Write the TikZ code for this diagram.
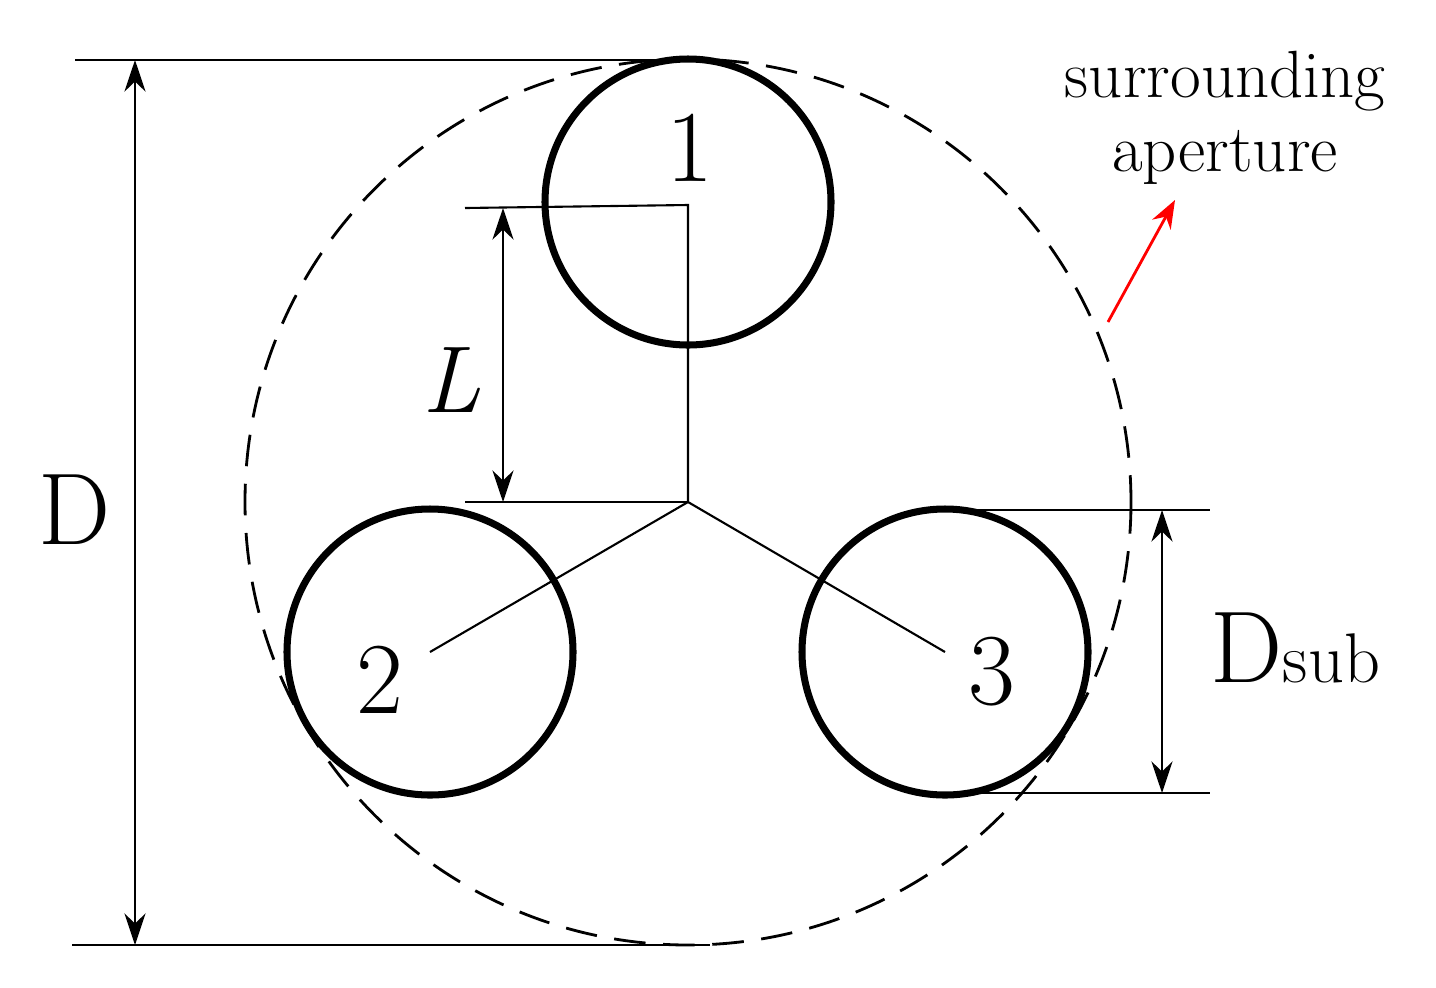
\documentclass[tikz,border=0pt]{standalone}
\usetikzlibrary{arrows.meta}
\begin{document}
\begin{tikzpicture}[x=0.01cm,y=-0.01cm,
  sub/.style={line width=2pt},
  thin/.style={line width=0.6pt},
  dim/.style={line width=0.8pt,{Stealth[length=9pt,width=6pt]}-{Stealth[length=9pt,width=6pt]}},
  lab/.style={font=\fontsize{29}{34}\selectfont,inner sep=0pt}]
\useasboundingbox (0,0) rectangle (1436,987);
\draw[line width=0.8pt,dash pattern=on 9pt off 5pt] (688,502) circle (443);
\coordinate (c) at (688,502);
\coordinate (c1) at (688,202);
\coordinate (c2) at (430,652);
\coordinate (c3) at (945,652);
\draw[sub] (c1) circle (143);
\draw[sub] (c2) circle (143);
\draw[sub] (c3) circle (143);
\draw[thin] (c) -- (688,205) -- (465,208);
\draw[thin] (465,502) -- (c);
\draw[thin] (c) -- (c2);
\draw[thin] (c) -- (c3);
\coordinate (la) at (503,208); \coordinate (lb) at (503,502);
\draw[dim] (la) -- (lb);
\node[lab,font=\fontsize{27}{32}\selectfont\itshape] (L) at (452,380) {L};
\draw[thin] (75,60) -- (700,60);
\draw[thin] (72,945) -- (710,945);
\coordinate (da) at (135,60); \coordinate (db) at (135,945);
\draw[dim] (da) -- (db);
\node[lab] (D) at (75,510) {D};
\draw[thin] (945,510) -- (1210,510);
\draw[thin] (945,793) -- (1210,793);
\coordinate (sa) at (1162,510); \coordinate (sb) at (1162,793);
\draw[dim] (sa) -- (sb);
\node[lab,anchor=west] (Ds) at (1210,648) {D\fontsize{20}{24}\selectfont sub};
\node[lab] (n1) at (690,148) {1};
\node[lab] (n2) at (380,680) {2};
\node[lab] (n3) at (992,672) {3};
\node[font=\fontsize{19}{23}\selectfont,align=center,inner sep=0pt] (t) at (1225,118) {surrounding\\[-2pt]aperture};
\coordinate (ra) at (1108,322); \coordinate (rb) at (1175,200);
\draw[red,line width=0.8pt,-{Stealth[length=8pt,width=6pt]}] (ra) -- (rb);
\end{tikzpicture}
\end{document}
